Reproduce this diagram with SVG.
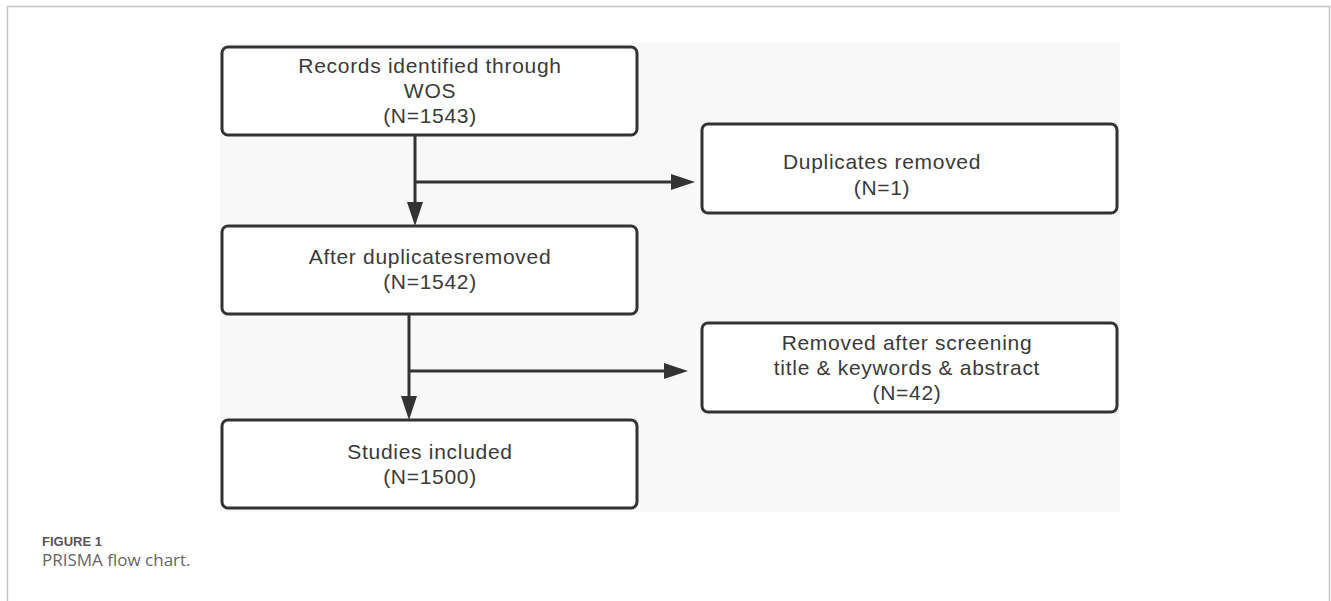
<svg xmlns="http://www.w3.org/2000/svg" width="1331" height="601" viewBox="0 0 1331 601">
  <style>
    .box { fill: #ffffff; stroke: #333333; stroke-width: 3; }
    .t { font-family: "Liberation Sans", Arial, sans-serif; font-size: 21px; letter-spacing: 0.7px; fill: #3a3a3a; text-anchor: middle; }
    .conn { stroke: #333333; stroke-width: 3; fill: none; }
    .cap1 { font-family: "Liberation Sans", Arial, sans-serif; font-size: 13px; font-weight: bold; fill: #555555; }
    .cap2 { font-family: "Open Sans", "Liberation Sans", sans-serif; font-size: 17px; fill: #666666; }
  </style>
  <defs>
    <marker id="arrow" markerUnits="userSpaceOnUse" markerWidth="24" markerHeight="16" refX="14" refY="8" orient="auto">
      <path d="M0,0 L24,8 L0,16 z" fill="#333333"/>
    </marker>
  </defs>
  <rect x="0" y="0" width="1331" height="601" fill="#ffffff"/>
  <rect x="7.5" y="6.5" width="1322" height="700" fill="none" stroke="#c4c4c4" stroke-width="1.5"/>
  <rect x="220" y="43" width="900" height="469" fill="#f8f8f8"/>

  <g id="connectors">
    <line class="conn" x1="415" y1="135" x2="415" y2="216" marker-end="url(#arrow)"/>
    <line class="conn" x1="415" y1="182" x2="685" y2="182" marker-end="url(#arrow)"/>
    <line class="conn" x1="409" y1="314" x2="409" y2="410" marker-end="url(#arrow)"/>
    <line class="conn" x1="409" y1="371" x2="678" y2="371" marker-end="url(#arrow)"/>
  </g>

  <g id="node-records">
    <rect class="box" x="222" y="47" width="415" height="88" rx="6"/>
    <text class="t" x="430" y="72.5">Records identified through</text>
    <text class="t" x="430" y="97.5">WOS</text>
    <text class="t" x="430" y="122.5">(N=1543)</text>
  </g>

  <g id="node-duplicates">
    <rect class="box" x="702" y="124" width="415" height="89" rx="6"/>
    <text class="t" x="882" y="169">Duplicates removed</text>
    <text class="t" x="882" y="195">(N=1)</text>
  </g>

  <g id="node-after">
    <rect class="box" x="222" y="226" width="415" height="88" rx="6"/>
    <text class="t" x="430" y="264">After duplicatesremoved</text>
    <text class="t" x="430" y="289">(N=1542)</text>
  </g>

  <g id="node-screening">
    <rect class="box" x="702" y="323" width="415" height="89" rx="6"/>
    <text class="t" x="907" y="350">Removed after screening</text>
    <text class="t" x="907" y="375">title &amp; keywords &amp; abstract</text>
    <text class="t" x="907" y="400">(N=42)</text>
  </g>

  <g id="node-included">
    <rect class="box" x="222" y="420" width="415" height="88" rx="6"/>
    <text class="t" x="430" y="459">Studies included</text>
    <text class="t" x="430" y="484">(N=1500)</text>
  </g>

  <g id="caption">
    <text class="cap1" x="42" y="546">FIGURE 1</text>
    <text class="cap2" x="42" y="566">PRISMA flow chart.</text>
  </g>
</svg>
